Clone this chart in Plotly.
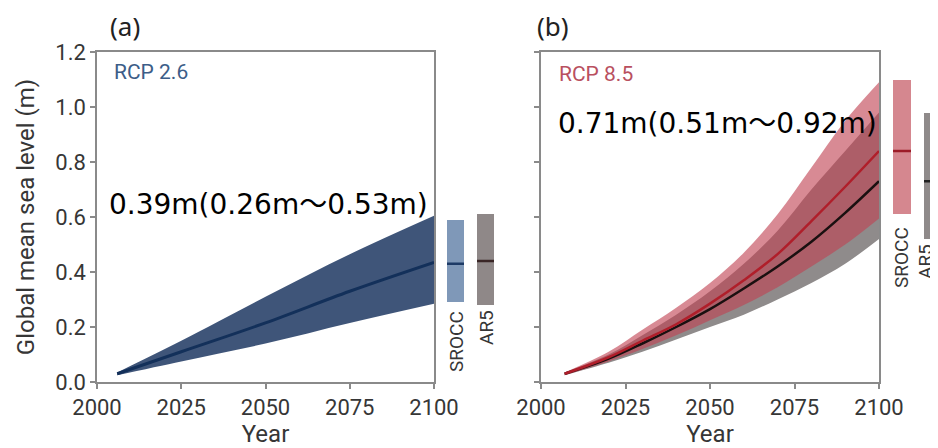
import plotly.graph_objects as go

# ---------------- data ----------------
years_a = [2006, 2025, 2050, 2075, 2100]
a_med = [0.03, 0.11, 0.215, 0.33, 0.435]
a_low = [0.025, 0.075, 0.14, 0.215, 0.285]
a_up = [0.035, 0.15, 0.31, 0.465, 0.605]

years_b = [2007, 2020, 2030, 2040, 2050, 2060, 2070, 2080, 2090, 2100]
b_srocc_med = [0.03, 0.09, 0.15, 0.21, 0.285, 0.37, 0.465, 0.585, 0.71, 0.84]
b_srocc_low = [0.025, 0.075, 0.12, 0.17, 0.225, 0.28, 0.345, 0.42, 0.50, 0.595]
b_srocc_up = [0.035, 0.11, 0.19, 0.27, 0.36, 0.47, 0.61, 0.78, 0.95, 1.09]
b_ar5_med = [0.03, 0.085, 0.14, 0.20, 0.265, 0.34, 0.42, 0.51, 0.615, 0.73]
b_ar5_low = [0.025, 0.07, 0.11, 0.155, 0.20, 0.245, 0.30, 0.36, 0.43, 0.52]
b_ar5_up = [0.035, 0.10, 0.17, 0.245, 0.33, 0.43, 0.55, 0.70, 0.84, 0.98]

# 2100 ranges (low, median, high)
srocc_a = [0.29, 0.43, 0.59]
ar5_a = [0.28, 0.44, 0.61]
srocc_b = [0.61, 0.84, 1.10]
ar5_b = [0.52, 0.73, 0.98]

x_ticks = [2000, 2025, 2050, 2075, 2100]
y_ticks = [0.0, 0.2, 0.4, 0.6, 0.8, 1.0, 1.2]

panel_labels = ["(a)", "(b)"]
scenario_labels = ["RCP 2.6", "RCP 8.5"]
value_texts = ["0.39m(0.26m～0.53m)", "0.71m(0.51m～0.92m)"]
bar_names = ["SROCC", "AR5"]

# ---------------- style ----------------
W, H = 938, 448
OFF = 8  # page body margin: figure pixel = page pixel - OFF
FONT = "Roboto, sans-serif"
TICKFONT = dict(family=FONT, size=22, color="#363636")
LABFONT = dict(family=FONT, size=24, color="#363636")
AXCOL = "#8a8a8a"

def px(x):
    return (x - OFF) / W

def py(y):
    return 1 - (y - OFF) / H

ydom = [py(382), py(52)]

fig = go.Figure()

def band(xs, lo, hi, color, xa, ya, shape):
    fig.add_trace(go.Scatter(x=xs, y=lo, mode="lines", line=dict(width=0, shape=shape),
                             hoverinfo="skip", xaxis=xa, yaxis=ya))
    fig.add_trace(go.Scatter(x=xs, y=hi, mode="lines", line=dict(width=0, shape=shape),
                             fill="tonexty", fillcolor=color,
                             hoverinfo="skip", xaxis=xa, yaxis=ya))

def line(xs, ys, color, xa, ya, w, shape):
    fig.add_trace(go.Scatter(x=xs, y=ys, mode="lines",
                             line=dict(color=color, width=w, shape=shape),
                             xaxis=xa, yaxis=ya, hoverinfo="skip"))

# panel (a)
band(years_a, a_low, a_up, "#3f5579", "x", "y", "spline")
line(years_a, a_med, "#13305a", "x", "y", 3, "spline")

# panel (b)
band(years_b, b_ar5_low, b_ar5_up, "#8f8b8b", "x2", "y2", "spline")
band(years_b, b_srocc_low, b_srocc_up, "rgba(192,66,82,0.62)", "x2", "y2", "spline")
line(years_b, b_ar5_med, "#1a1010", "x2", "y2", 2.5, "spline")
line(years_b, b_srocc_med, "#b01e2a", "x2", "y2", 2.5, "spline")

# side range bars
def side_bar(vals, fill, med_color, xa, ya):
    lo, med, hi = vals
    fig.add_trace(go.Bar(x=[0], y=[hi - lo], base=[lo], width=[1],
                         marker=dict(color=fill, line=dict(width=0)),
                         xaxis=xa, yaxis=ya, hoverinfo="skip"))
    fig.add_trace(go.Scatter(x=[-0.5, 0.5], y=[med, med], mode="lines",
                             line=dict(color=med_color, width=2.5),
                             xaxis=xa, yaxis=ya, hoverinfo="skip"))

side_bar(srocc_a, "#7f98b8", "#1d3a66", "x3", "y")
side_bar(ar5_a, "#8f8888", "#3a2626", "x4", "y")
side_bar(srocc_b, "#d5878f", "#9c1c28", "x5", "y2")
side_bar(ar5_b, "#8f8a8a", "#222222", "x6", "y2")

common_x = dict(range=[2000, 2100], tickvals=x_ticks, ticks="outside", ticklen=5,
                tickcolor=AXCOL, tickwidth=1.5, showline=True, linecolor=AXCOL,
                linewidth=1.5, mirror=True, showgrid=False, zeroline=False,
                automargin=False, tickfont=TICKFONT,
                title=dict(text="Year", font=LABFONT, standoff=0))
common_y = dict(range=[0, 1.2], tickvals=y_ticks, tickformat=".1f", ticks="outside",
                ticklen=5, tickcolor=AXCOL, tickwidth=1.5, showline=True,
                linecolor=AXCOL, linewidth=1.5, mirror=True, showgrid=False,
                zeroline=False, automargin=False, tickfont=TICKFONT, domain=ydom)

hidden = dict(range=[-0.5, 0.5], visible=False, fixedrange=True, automargin=False)

fig.update_layout(
    width=W, height=H, margin=dict(l=0, r=0, t=0, b=0, autoexpand=False),
    paper_bgcolor="white", plot_bgcolor="rgba(0,0,0,0)", showlegend=False,
    bargap=0,
    xaxis=dict(domain=[px(97), px(434)], anchor="y", **common_x),
    yaxis=dict(anchor="x", title=dict(text="Global mean sea level (m)", font=LABFONT, standoff=14),
               **common_y),
    xaxis2=dict(domain=[px(541), px(879)], anchor="y2", **common_x),
    yaxis2=dict(anchor="x2", showticklabels=False, **common_y),
    xaxis3=dict(domain=[px(447), px(464)], anchor="y", **hidden),
    xaxis4=dict(domain=[px(477), px(494)], anchor="y", **hidden),
    xaxis5=dict(domain=[px(893), px(911)], anchor="y2", **hidden),
    xaxis6=dict(domain=[px(924), px(941)], anchor="y2", **hidden),
)

ann = []
# panel letters
for lab, xp in zip(panel_labels, [108, 535]):
    ann.append(dict(x=px(xp), y=py(26), xref="paper", yref="paper", text=lab,
                    showarrow=False, xanchor="left", yanchor="middle",
                    font=dict(family="Noto Sans, sans-serif", size=26, color="#222222")))
# scenario labels
for lab, xp, yp, col in zip(scenario_labels, [112, 557], [72, 74], ["#3c5d88", "#b9505f"]):
    ann.append(dict(x=px(xp), y=py(yp), xref="paper", yref="paper", text=lab,
                    showarrow=False, xanchor="left", yanchor="middle",
                    font=dict(family=FONT, size=21, color=col)))
# value texts
for lab, xp, yp in zip(value_texts, [107, 556], [205, 123]):
    ann.append(dict(x=px(xp), y=py(yp), xref="paper", yref="paper", text=lab,
                    showarrow=False, xanchor="left", yanchor="middle",
                    font=dict(family="DejaVu Sans, Noto Sans CJK JP, sans-serif", size=28, color="#000000")))
# bar labels
for lab, xp, yp in [(bar_names[0], 456, 342), (bar_names[1], 486, 327),
                    (bar_names[0], 901, 258), (bar_names[1], 925, 262)]:
    ann.append(dict(x=px(xp), y=py(yp), xref="paper", yref="paper", text=lab,
                    showarrow=False, xanchor="center", yanchor="middle", textangle=-90,
                    font=dict(family=FONT, size=19, color="#363636")))
fig.update_layout(annotations=ann)

fig.write_html("out.html")
